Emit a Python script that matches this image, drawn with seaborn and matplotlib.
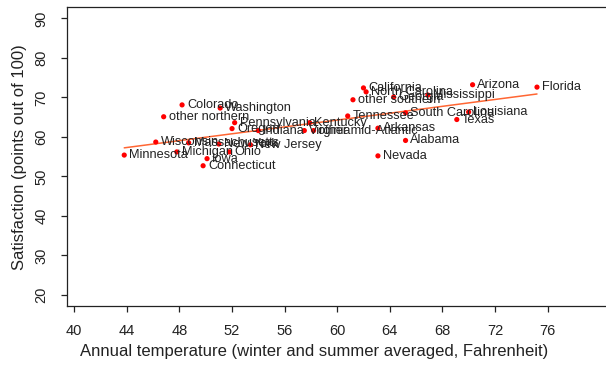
import pandas as pd
import matplotlib
matplotlib.use("Agg")
import matplotlib.pyplot as plt
import seaborn as sns

# values
states = [
    "Minnesota", "Wisconsin", "other northern", "Colorado", "Michigan",
    "Massachusetts", "Connecticut", "Iowa", "Washington", "New York",
    "Ohio", "New Jersey", "Pennsylvania", "Oregon", "Indiana",
    "Kentucky", "Virginia", "other mid-Atlantic", "Tennessee", "Arkansas",
    "Alabama", "Nevada", "California", "North Carolina", "other southern",
    "Georgia", "Mississippi", "South Carolina", "Louisiana", "Texas",
    "Arizona", "Florida",
]
temperature = [
    43.8, 46.2, 46.8, 48.2, 47.8,
    48.7, 49.8, 50.1, 51.1, 51.0,
    51.8, 53.4, 52.2, 52.0, 54.0,
    57.9, 57.5, 58.2, 60.8, 63.1,
    65.2, 63.1, 62.0, 62.2, 61.2,
    64.3, 66.9, 65.2, 70.0, 69.1,
    70.3, 75.2,
]
satisfaction = [
    55.4, 58.7, 65.1, 68.1, 56.2,
    58.5, 52.7, 54.5, 67.3, 58.2,
    56.2, 58.0, 63.6, 62.1, 61.6,
    63.6, 61.6, 61.6, 65.3, 62.2,
    59.1, 55.2, 72.4, 71.4, 69.4,
    70.1, 70.6, 66.1, 66.3, 64.4,
    73.2, 72.6,
]

x_ticks = [40, 44, 48, 52, 56, 60, 64, 68, 72, 76]
y_ticks = [20, 30, 40, 50, 60, 70, 80, 90]


def scatter_temp_vs_satisfaction(df):
    fig = plt.figure(figsize=(6.06, 3.65), dpi=100)
    ax = fig.add_axes([0.110, 0.1616, 0.89, 0.8184])

    sns.scatterplot(data=df, x="temperature", y="satisfaction", color="#ff0000",
                    s=14, edgecolor="none", ax=ax, zorder=3)
    sns.regplot(data=df, x="temperature", y="satisfaction", scatter=False, ci=None,
                color="#ff6633", line_kws={"linewidth": 1.1}, ax=ax)

    for _, row in df.iterrows():
        ax.annotate(row["state"], (row["temperature"], row["satisfaction"]),
                    xytext=(3.5, 0), textcoords="offset points",
                    ha="left", va="center", fontsize=9.2, color="#222222", zorder=4)

    ax.set_xlim(39.42, 80.45)
    ax.set_ylim(17.2, 92.8)
    ax.set_xticks(x_ticks)
    ax.set_yticks(y_ticks)
    ax.set_yticklabels([str(v) for v in y_ticks], rotation=90, va="center")
    ax.tick_params(bottom=True, left=True, direction="out", length=4.3, width=0.9,
                   labelsize=10.5, colors="#222222", pad=9)
    ax.spines["right"].set_visible(False)
    for side in ["left", "bottom", "top"]:
        ax.spines[side].set_linewidth(0.9)
        ax.spines[side].set_color("#222222")
    ax.set_xlabel("Annual temperature (winter and summer averaged, Fahrenheit)",
                  fontsize=12, color="#222222")
    ax.xaxis.set_label_coords(0.4586, -0.127)
    ax.set_ylabel("Satisfaction (points out of 100)", fontsize=12,
                  color="#222222", labelpad=5)

    fig.savefig("out.png", dpi=100)
    plt.close(fig)


def main():
    sns.set_style("white")
    plt.rcParams["font.family"] = ["Liberation Sans", "DejaVu Sans"]
    df = pd.DataFrame({"state": states, "temperature": temperature,
                       "satisfaction": satisfaction})
    scatter_temp_vs_satisfaction(df)


if __name__ == "__main__":
    main()
